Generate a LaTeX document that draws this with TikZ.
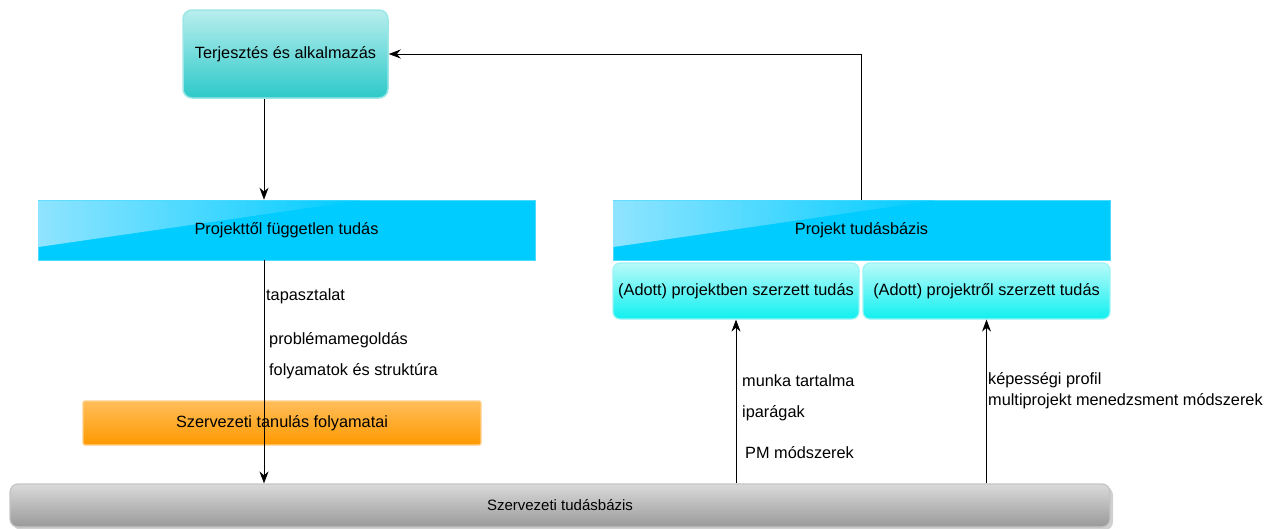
\documentclass[tikz,border=0pt]{standalone}
\usepackage{fontspec}
\setmainfont{Liberation Sans}
\usetikzlibrary{arrows.meta,calc}
\definecolor{cyanA}{HTML}{00CCFF}
\definecolor{cyanHi}{HTML}{8FE4FF}
\definecolor{aquaTop}{HTML}{B8FAFA}
\definecolor{aquaMid}{HTML}{40F2F2}
\definecolor{aquaBot}{HTML}{10F0F0}
\definecolor{aquaLine}{HTML}{99F4F4}
\definecolor{tealTop}{HTML}{B8EEEE}
\definecolor{tealMid}{HTML}{4ED2D2}
\definecolor{tealBot}{HTML}{2EC9C9}
\definecolor{tealLine}{HTML}{9CE6E6}
\definecolor{orTop}{HTML}{FFBE5A}
\definecolor{orMid}{HTML}{FFA01A}
\definecolor{orBot}{HTML}{FF9900}
\definecolor{orLine}{HTML}{FFCF8A}
\definecolor{grTop}{HTML}{DADADA}
\definecolor{grMid}{HTML}{A4A4A4}
\definecolor{grBot}{HTML}{999999}
\definecolor{grLine}{HTML}{C4C4C4}
\tikzset{
  txt/.style={font=\fontsize{16.3}{19}\selectfont, text=black},
  flatbox/.style={txt, fill=cyanA, draw=cyanA!70!white, line width=0.6pt, inner sep=0pt},
  aquabox/.style={txt, rounded corners=7pt, top color=aquaTop, middle color=aquaMid, bottom color=aquaBot, draw=aquaLine, line width=1.2pt, inner sep=0pt},
  tealbox/.style={txt, rounded corners=9pt, top color=tealTop, middle color=tealMid, bottom color=tealBot, draw=tealLine, line width=1.5pt, inner sep=0pt},
  orbox/.style={txt, rounded corners=2pt, top color=orTop, middle color=orMid, bottom color=orBot, draw=orLine, line width=1.2pt, inner sep=0pt},
  grbox/.style={txt, rounded corners=8pt, top color=grTop, middle color=grMid, bottom color=grBot, draw=grLine, line width=1.2pt, inner sep=0pt},
  lbl/.style={txt, anchor=west, inner sep=0pt},
  arr/.style={draw=black, line width=0.9pt, -{Stealth[length=12pt,width=9pt]}}
}
\begin{document}
\begin{tikzpicture}[x=1pt,y=-1pt]
  \useasboundingbox (0,0) rectangle (1275,528);

  % top box
  \node[tealbox, minimum width=205pt, minimum height=88pt] (terj) at (285.5,54) {Terjesztés és alkalmazás};

  % wide bars
  \node[flatbox, minimum width=497pt, minimum height=60pt] (indep) at (286.5,230) {};
  \node[flatbox, minimum width=497pt, minimum height=60pt] (pkb) at (861.5,230) {};
  % glossy highlight on the bars
  \shade[left color=cyanHi, right color=cyanA] (38.5,200.5) -- (360,200.5) -- (38.5,247) -- cycle;
  \shade[left color=cyanHi, right color=cyanA] (613.5,200.5) -- (935,200.5) -- (613.5,247) -- cycle;
  \node[txt] at (indep.center) {Projekttől független tudás};
  \node[txt] at (pkb.center) {Projekt tudásbázis};

  % project knowledge parts
  \node[aquabox, minimum width=246pt, minimum height=56pt] (inproj) at (736,291) {(Adott) projektben szerzett tudás};
  \node[aquabox, minimum width=247pt, minimum height=56pt] (ofproj) at (986.5,291) {(Adott) projektről szerzett tudás};

  % organisational learning
  \node[orbox, minimum width=398pt, minimum height=44pt] (learn) at (282,423) {Szervezeti tanulás folyamatai};

  % organisational knowledge base
  \fill[black!18, rounded corners=8pt] (13,487) rectangle (1113,530);
  \node[grbox, minimum width=1100pt, minimum height=43pt] (okb) at (560,505.5) {\fontsize{15}{18}\selectfont Szervezeti tudásbázis};

  % connectors
  \coordinate (xl) at (264,0);
  \draw[arr] (terj.south -| xl) -- (indep.north -| xl);
  \draw[arr] (indep.south -| xl) -- (okb.north -| xl);
  \draw[arr] (okb.north -| inproj.south) -- (inproj.south);
  \draw[arr] (okb.north -| ofproj.south) -- (ofproj.south);
  \draw[arr] (pkb.north) |- (terj.east);

  % connector labels
  \node[lbl] (l1) at (266,296) {tapasztalat};
  \node[lbl] (l2) at (269,340) {problémamegoldás};
  \node[lbl] (l3) at (269,371) {folyamatok és struktúra};
  \node[lbl] (l4) at (742,381) {munka tartalma};
  \node[lbl] (l5) at (742,413) {iparágak};
  \node[lbl] (l6) at (745,453) {PM módszerek};
  \node[lbl] (l7) at (988,380) {képességi profil};
  \node[lbl] (l8) at (988,401) {multiprojekt menedzsment módszerek};
\end{tikzpicture}
\end{document}
